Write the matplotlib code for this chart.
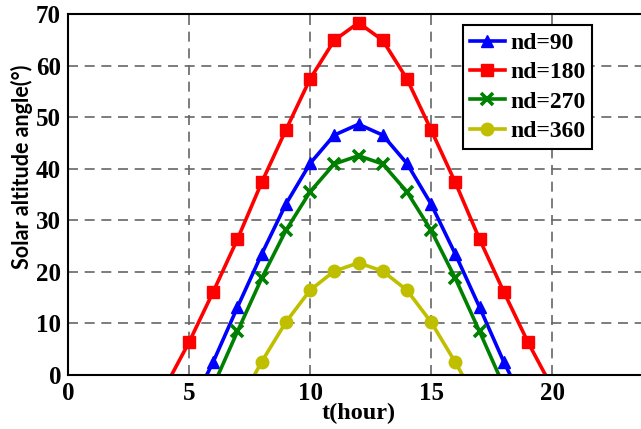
import matplotlib
matplotlib.use("Agg")
import matplotlib.pyplot as plt

# Data (hours and solar altitude angle, degrees)
t_90 = [5, 6, 7, 8, 9, 10, 11, 12, 13, 14, 15, 16, 17, 18, 19]
alt_90 = [-7.0, 2.5, 13.1, 23.4, 33.1, 41.0, 46.5, 48.6, 46.5, 41.0, 33.1, 23.4, 13.1, 2.5, -7.0]

t_180 = [4, 5, 6, 7, 8, 9, 10, 11, 12, 13, 14, 15, 16, 17, 18, 19, 20]
alt_180 = [-2.5, 6.3, 16.1, 26.3, 37.3, 47.5, 57.4, 64.9, 68.3, 64.9, 57.4, 47.5, 37.3, 26.3, 16.1, 6.3, -2.5]

t_270 = [6, 7, 8, 9, 10, 11, 12, 13, 14, 15, 16, 17, 18]
alt_270 = [-2.2, 8.4, 18.7, 28.0, 35.5, 40.9, 42.5, 40.9, 35.5, 28.0, 18.7, 8.4, -2.2]

t_360 = [7, 8, 9, 10, 11, 12, 13, 14, 15, 16, 17]
alt_360 = [-6.0, 2.5, 10.2, 16.4, 20.1, 21.7, 20.1, 16.4, 10.2, 2.4, -6.0]

labels = ["nd=90", "nd=180", "nd=270", "nd=360"]
xticks = [0, 5, 10, 15, 20]
yticks = [0, 10, 20, 30, 40, 50, 60, 70]

fig = plt.figure(figsize=(6.41, 4.29), dpi=100)
ax = fig.add_axes([68/641, 1 - 374.7/429, (649 - 68)/641, (374.7 - 14)/429])

lw = 2.6
ax.plot(t_90, alt_90, color="#0000ff", lw=lw, marker="^", ms=8.5, label=labels[0])
ax.plot(t_180, alt_180, color="#ff0000", lw=lw, marker="s", ms=8, label=labels[1])
ax.plot(t_270, alt_270, color="#008000", lw=lw, marker="x", ms=9, mew=2.6, label=labels[2])
ax.plot(t_360, alt_360, color="#bfbf00", lw=lw, marker="o", ms=9, label=labels[3])

ax.set_xlim(0, 24)
ax.set_ylim(0, 70)
ax.set_xticks(xticks)
ax.set_yticks(yticks)
ax.grid(True, color="#666666", linestyle=(0, (6, 4)), lw=1.2)
ax.set_axisbelow(True)
ax.tick_params(length=0, pad=5)
for lab in ax.get_xticklabels() + ax.get_yticklabels():
    lab.set_family("Liberation Serif")
    lab.set_fontweight("bold")
    lab.set_fontsize(18)
for sp in ax.spines.values():
    sp.set_linewidth(1.5)

ax.set_xlabel("t(hour)", family="Liberation Serif", fontweight="bold", fontsize=17.5, labelpad=-1)
ax.set_ylabel("Solar altitude angle(°)", family="Lato", fontweight="bold", fontsize=15.5, labelpad=2)
ax.yaxis.set_label_coords((33 - 68)/581, (374.7 - 167)/360.7)

leg = ax.legend(loc="upper left", bbox_to_anchor=((462.7 - 68)/581, 1 - (25.3 - 14)/360.7),
                prop={"family": "Liberation Serif", "weight": "bold", "size": 17},
                frameon=True, fancybox=False, edgecolor="black", framealpha=1,
                handlelength=1.5, handletextpad=0.2, borderpad=0.3, labelspacing=0.33,
                borderaxespad=0)
leg.get_frame().set_linewidth(1.5)

fig.savefig("out.png", dpi=100)
